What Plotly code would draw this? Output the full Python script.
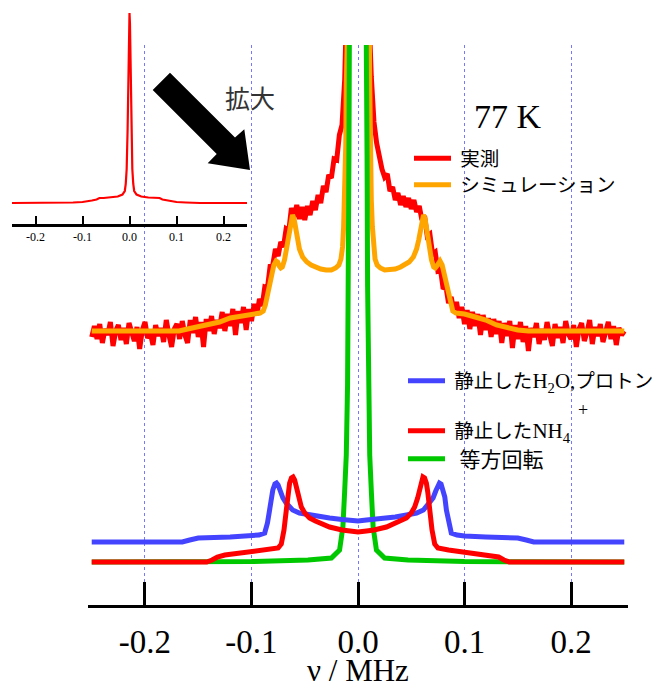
import plotly.graph_objects as go

W, H = 667, 690

# ---------------- data ----------------
tick_vals = [-0.2, -0.1, 0.0, 0.1, 0.2]
tick_text = ["-0.2", "-0.1", "0.0", "0.1", "0.2"]
x_title = "ν / MHz"

# measured spectrum (frequency grid, MHz) and intensity (a.u.)
meas_freq = [round(-0.25 + 0.0025 * i, 4) for i in range(201)]
meas_int = [
    268, 279, 266, 281, 262, 276, 270, 283, 259, 274, 280, 265, 277, 261, 282, 271,
    264, 278, 256, 275, 283, 267, 272, 260, 280, 269, 277, 263, 285, 270, 258, 276,
    281, 266, 284, 270, 262, 285, 272, 288, 268, 283, 258, 286, 274, 289, 271, 285,
    277, 293, 274, 291, 279, 296, 270, 294, 282, 298, 275, 296,
    284, 301, 290, 306, 299, 318, 317, 339, 340, 356, 349, 363, 358, 376, 374, 397,
    388, 400, 386, 398, 385, 399, 390, 404, 395, 410, 402, 419, 413, 430, 427, 446,
    445, 470, 480,
    525, 600, 750, 900, 1000, 1050, 1000, 900, 750, 600, 528,
    483, 462, 447, 436, 428, 431, 414, 418, 405, 412, 400, 409, 398, 407, 396, 405,
    393, 399, 385, 389, 369, 371, 351, 353, 334, 335, 316, 319, 302, 308, 294, 303,
    287, 298, 281, 295, 276, 293, 279, 291, 270, 290, 275, 287, 268, 286, 271, 284,
    262, 282, 269, 284, 257, 280, 266, 283, 263, 279, 254, 277, 268, 282, 261, 276,
    265, 283, 270, 259, 281, 267, 278, 262, 284, 271, 266, 280, 258, 276, 282, 264,
    273, 285, 261, 278, 269, 281, 263, 275, 283, 266, 279, 260, 277, 270, 274,
]

# simulation
sim_freq = [
    -0.25, -0.2, -0.168, -0.16, -0.15, -0.14, -0.13, -0.12, -0.11, -0.1,
    -0.092, -0.089, -0.087, -0.085, -0.083, -0.081, -0.079, -0.077, -0.0755, -0.074,
    -0.0725, -0.071, -0.069, -0.067, -0.065, -0.063, -0.0615, -0.06, -0.0585, -0.057,
    -0.055, -0.052, -0.048, -0.044, -0.04, -0.035, -0.03, -0.025, -0.021, -0.018,
    -0.016, -0.0145, -0.0135, -0.0125, -0.0115, -0.011, -0.0105, -0.009, -0.006, 0.0,
    0.006, 0.009, 0.0105, 0.011, 0.0115, 0.0125, 0.0135, 0.0145, 0.016, 0.018,
    0.021, 0.025, 0.03, 0.035, 0.04, 0.044, 0.048, 0.052, 0.055, 0.057,
    0.0585, 0.06, 0.0615, 0.063, 0.065, 0.067, 0.069, 0.071, 0.0725, 0.074,
    0.0755, 0.077, 0.079, 0.081, 0.083, 0.085, 0.087, 0.089, 0.092, 0.1,
    0.11, 0.12, 0.13, 0.14, 0.15, 0.16, 0.168, 0.2, 0.25,
]
sim_int = [
    274, 274, 274, 276, 278, 280, 283, 287, 289, 291,
    292, 294, 300, 310, 320, 331, 340, 344, 343, 339,
    337, 338, 345, 357, 372, 386, 390, 386, 376, 365,
    356, 348, 343, 340, 338, 336, 335, 335, 337, 340,
    346, 358, 378, 405, 460, 520, 600, 760, 950, 1050,
    950, 760, 600, 520, 460, 405, 378, 358, 346, 340,
    337, 335, 335, 336, 338, 340, 343, 348, 356, 365,
    376, 386, 390, 386, 372, 357, 345, 338, 337, 339,
    343, 344, 340, 331, 320, 310, 300, 294, 292, 291,
    288, 285, 280, 277, 275, 274, 274, 274, 274,
]

# static H2O, proton
h2o_freq = [
    -0.25, -0.165, -0.158, -0.15, -0.12, -0.1, -0.093, -0.0876, -0.085, -0.083,
    -0.0815, -0.08, -0.078, -0.0765, -0.075, -0.073, -0.0705, -0.0675, -0.064, -0.0614,
    -0.055, -0.0455, -0.035, -0.0267, -0.015, -0.008, 0.0,
    0.008, 0.015, 0.0267, 0.035, 0.0455, 0.055, 0.0614, 0.064, 0.0675, 0.0705,
    0.073, 0.075, 0.0765, 0.078, 0.08, 0.0815, 0.083, 0.085, 0.0876, 0.093,
    0.1, 0.12, 0.15, 0.158, 0.165, 0.25,
]
h2o_int = [
    63, 63, 65, 67, 68, 69, 70, 72, 82, 95,
    108, 115, 121, 122, 120, 114, 107, 102, 98, 95,
    92, 90, 88, 87, 85.5, 85, 84,
    85, 85.5, 87, 88, 90, 92, 95, 98, 102, 107,
    114, 120, 122, 121, 115, 108, 95, 82, 72, 70,
    69, 68, 67, 65, 63, 63,
]

# static NH4+
nh4_freq = [
    -0.25, -0.142, -0.137, -0.132, -0.125, -0.11, -0.1, -0.085, -0.075, -0.072,
    -0.0695, -0.0673, -0.0655, -0.0642, -0.0625, -0.061, -0.0595, -0.058, -0.056, -0.0532,
    -0.05, -0.0455, -0.04, -0.0267, -0.015, -0.008, 0.0,
    0.008, 0.015, 0.0267, 0.04, 0.0455, 0.05, 0.0532, 0.056, 0.058, 0.0595,
    0.061, 0.0625, 0.0642, 0.0655, 0.0673, 0.0695, 0.072, 0.075, 0.085, 0.1,
    0.11, 0.125, 0.132, 0.137, 0.142, 0.25,
]
nh4_int = [
    43, 43, 45, 48, 50, 52, 53, 55, 57, 61,
    75, 95, 113, 122, 127, 128, 125, 118, 107, 98,
    92, 87, 84, 78, 75, 74, 73,
    74, 75, 78, 84, 87, 92, 98, 107, 118, 125,
    128, 127, 122, 113, 95, 75, 61, 57, 55, 53,
    52, 50, 48, 45, 43, 43,
]

# isotropic rotation
iso_freq = [
    -0.25, -0.1, -0.047, -0.025, -0.0173, -0.0142, -0.0126, -0.011, -0.0098, -0.009,
    -0.0085, -0.008, -0.006, 0.0,
    0.006, 0.008, 0.0085, 0.009, 0.0098, 0.011, 0.0126, 0.0142, 0.0173, 0.025,
    0.047, 0.1, 0.25,
]
iso_int = [
    43, 43.5, 45, 47, 55, 78, 112, 150, 220, 320,
    450, 600, 850, 1000,
    850, 600, 450, 320, 220, 150, 112, 78, 55, 47,
    45, 43.5, 43,
]

# full-scale (inset) spectrum
full_freq = [
    -0.25, -0.2, -0.15, -0.12, -0.1, -0.09, -0.08, -0.07, -0.064, -0.055,
    -0.04, -0.025, -0.015, -0.01, -0.008, -0.006, -0.004, -0.002, -0.001, 0.0,
    0.001, 0.002, 0.004, 0.006, 0.008, 0.01, 0.015, 0.025, 0.04, 0.055,
    0.064, 0.07, 0.08, 0.09, 0.1, 0.12, 0.15, 0.2, 0.25,
]
full_int = [
    21, 21, 21, 21.5, 22, 22.5, 23.5, 24.5, 26, 26,
    26.5, 27.5, 29.5, 33, 40, 55, 95, 170, 200, 211,
    200, 170, 95, 55, 40, 33, 29.5, 27.5, 26.5, 26,
    26, 24.5, 23.5, 22.5, 22, 21.5, 21, 21, 21,
]

# ---------------- figure ----------------
JP = "Noto Sans CJK JP"
SERIF = "Liberation Serif"
LW = 5


def px_x(p):
    return p / W


def px_y(p):
    return 1 - p / H


SER = f'<span style="font-family:{SERIF};font-size:21px">'

fig = go.Figure()
fig.add_trace(go.Scatter(x=meas_freq, y=meas_int, mode="lines", name=" 実測",
                         line=dict(color="#ff0000", width=LW), legend="legend"))
fig.add_trace(go.Scatter(x=sim_freq, y=sim_int, mode="lines", name=" シミュレーション",
                         line=dict(color="#ffa500", width=LW), legend="legend5"))
fig.add_trace(go.Scatter(x=iso_freq, y=iso_int, mode="lines", name="  等方回転",
                         line=dict(color="#00c800", width=LW), legend="legend4"))
fig.add_trace(go.Scatter(x=h2o_freq, y=h2o_int, mode="lines",
                         name=f' 静止した{SER}H<sub>2</sub>O,</span>プロトン',
                         line=dict(color="#4444ff", width=LW), legend="legend2"))
fig.add_trace(go.Scatter(x=nh4_freq, y=nh4_int, mode="lines",
                         name=f' 静止した{SER}NH<sub>4</sub></span>',
                         line=dict(color="#ff0000", width=LW), legend="legend3"))
fig.add_trace(go.Scatter(x=full_freq, y=full_int, mode="lines", showlegend=False,
                         line=dict(color="#ff0000", width=2.2), xaxis="x2", yaxis="y2"))


def leg(xp, yp, size=19):
    return dict(x=px_x(xp), y=px_y(yp), font=dict(family=JP, size=size, color="black"),
                bgcolor="rgba(0,0,0,0)", borderwidth=0, xanchor="left",
                yanchor="middle", itemwidth=37, tracegroupgap=0)


fig.update_layout(
    width=W, height=H,
    margin=dict(l=0, r=0, t=0, b=0, autoexpand=False),
    paper_bgcolor="white", plot_bgcolor="rgba(0,0,0,0)",
    xaxis=dict(domain=[px_x(88), px_x(628)], range=[-0.2535, 0.2535], anchor="y",
               automargin=False,
               showline=True, linecolor="black", linewidth=3,
               ticks="inside", ticklen=23, tickwidth=3, tickcolor="black",
               tickvals=tick_vals, ticktext=tick_text, ticklabelstandoff=5,
               tickfont=dict(family=SERIF, size=33, color="black"),
               showgrid=True, gridcolor="#7878ff", griddash="dot", gridwidth=1,
               zeroline=False),
    yaxis=dict(domain=[px_y(605), px_y(45)], range=[0, 560], visible=False, anchor="x"),
    xaxis2=dict(domain=[px_x(12), px_x(247)], range=[-0.25, 0.25], anchor="y2",
                automargin=False,
                showline=True, linecolor="black", linewidth=3,
                ticks="inside", ticklen=8, tickwidth=2, tickcolor="black",
                tickvals=tick_vals, ticktext=tick_text,
                tickfont=dict(family=SERIF, size=12, color="black"),
                showgrid=False, zeroline=False),
    yaxis2=dict(domain=[px_y(224), px_y(10)], range=[0, 214], visible=False, anchor="x2"),
    legend=leg(409, 158.5, 19.5),
    legend5=leg(409, 185, 19.5),
    legend2=leg(403, 381, 19.5),
    legend3=leg(403, 431, 19.5),
    legend4=leg(403, 459, 21),
    showlegend=True,
)

# arrow (zoom indicator)
arrow_pts = [(152.7, 90), (170, 72.7), (235, 137.5), (244.3, 129.3), (250, 170),
             (207.7, 163.3), (216.7, 154)]
path = "M " + " L ".join(f"{px_x(a):.5f},{px_y(b):.5f}" for a, b in arrow_pts) + " Z"
fig.add_shape(type="path", path=path, xref="paper", yref="paper",
              fillcolor="black", line=dict(color="black", width=0))

fig.add_annotation(x=px_x(358), y=0.0, xref="paper", yref="paper", text=x_title,
                   showarrow=False, xanchor="center", yanchor="bottom",
                   font=dict(family=SERIF, size=31, color="black"))
fig.add_annotation(x=px_x(250), y=px_y(97), xref="paper", yref="paper", text="拡大",
                   showarrow=False, xanchor="center", yanchor="middle",
                   font=dict(family=JP, size=25, color="#333333"))
fig.add_annotation(x=px_x(508), y=px_y(116), xref="paper", yref="paper", text="77 K",
                   showarrow=False, xanchor="center", yanchor="middle",
                   font=dict(family=SERIF, size=34, color="black"))
fig.add_annotation(x=px_x(583), y=px_y(410), xref="paper", yref="paper", text="+",
                   showarrow=False, xanchor="center", yanchor="middle",
                   font=dict(family=SERIF, size=18, color="black"))

fig.write_html("out.html", config={"displayModeBar": False},
               post_script="document.body.style.margin='0px';")
